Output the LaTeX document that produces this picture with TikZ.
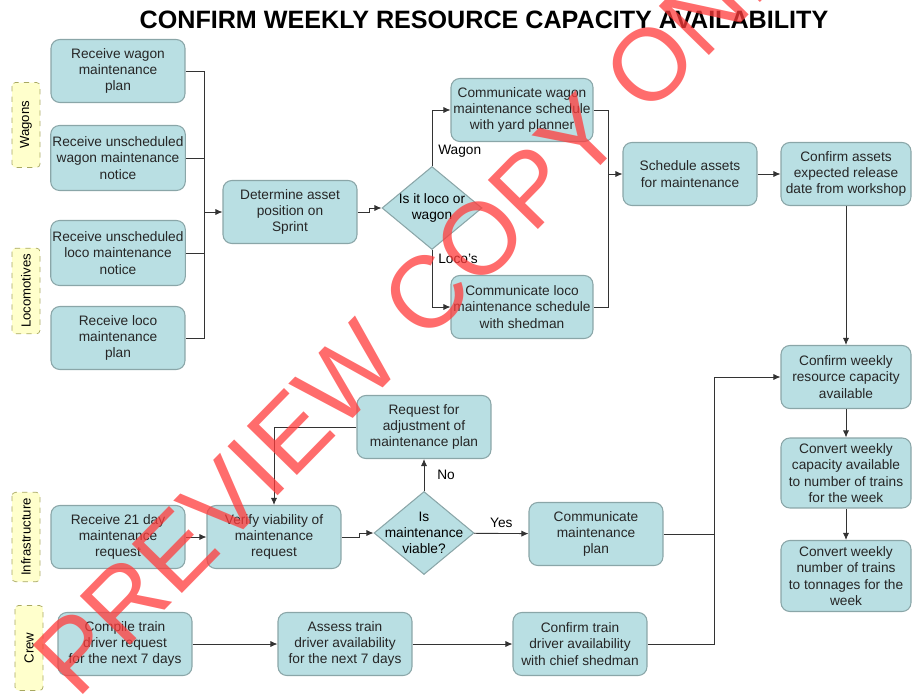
\documentclass[tikz,border=0pt]{standalone}
\usepackage{fontspec}
\setmainfont{Liberation Sans}
\usetikzlibrary{shapes.geometric,arrows.meta}
\definecolor{boxfill}{HTML}{B9DFE3}
\definecolor{boxline}{HTML}{8AA6A8}
\definecolor{lanefill}{HTML}{FFFFCC}
\definecolor{laneline}{HTML}{A8A860}
\definecolor{wire}{HTML}{333333}
\definecolor{stamp}{HTML}{FF3B3B}

\begin{document}
\begin{tikzpicture}[x=0.02cm, y=-0.02cm, font=\fontsize{7.8}{9.3}\selectfont]
  \tikzstyle{task}=[draw=boxline, fill=boxfill, line width=0.6pt, rounded corners=5pt, align=center, text=black!85, minimum width=2.68cm, minimum height=1.26cm, inner sep=1pt];
  \tikzstyle{choice}=[diamond, draw=boxline, fill=boxfill, line width=0.6pt, minimum width=2cm, minimum height=1.66cm, inner sep=0pt];
  \tikzstyle{lane}=[draw=laneline, fill=lanefill, dashed, rounded corners=2pt, rotate=90, minimum width=1.7cm, minimum height=0.56cm, font=\fontsize{7.5}{9}\selectfont];
  \tikzstyle{flowline}=[draw=wire, line width=0.5pt];
  \tikzstyle{flowarrow}=[draw=wire, line width=0.5pt, -{Latex[length=4pt,width=3.5pt]}];

  \useasboundingbox (0,0) rectangle (912,696);

  \node[font=\bfseries\fontsize{14.3}{16}\selectfont] (title) at (484,20) {CONFIRM WEEKLY RESOURCE CAPACITY AVAILABILITY};

  % lanes
  \node[lane] (wagons) at (26,125) {Wagons};
  \node[lane] (locos) at (26,291) {Locomotives};
  \node[lane] (infra) at (26,537) {Infrastructure};
  \node[lane] (crew) at (29,648) {Crew};

  % wagons and locos
  \node[task] (wagplan) at (118,71) {Receive wagon\\maintenance\\plan};
  \node[task, minimum height=1.3cm] (wagnote) at (118,158) {Receive unscheduled\\wagon maintenance\\notice};
  \node[task, minimum height=1.3cm] (loconote) at (118,253) {Receive unscheduled\\loco maintenance\\notice};
  \node[task] (locoplan) at (118,338) {Receive loco\\maintenance\\plan};
  \node[task] (position) at (290,212) {Determine asset\\position on\\Sprint};
  \node[choice, label={[align=center]center:{Is it loco or\\wagon}}] (kind) at (432,208) {};
  \node[task, minimum width=2.84cm] (commwag) at (522,110) {Communicate wagon\\maintenance schedule\\with yard planner};
  \node[task, minimum width=2.84cm] (commloco) at (522,307) {Communicate loco\\maintenance schedule\\with shedman};
  \node[task] (schedule) at (690,174) {Schedule assets\\for maintenance};
  \node[task, minimum width=2.6cm] (release) at (846,174) {Confirm assets\\expected release\\date from workshop};

  % weekly capacity
  \node[task, minimum width=2.6cm] (weekly) at (846,377) {Confirm weekly\\resource capacity\\available};
  \node[task, minimum width=2.6cm, minimum height=1.4cm] (trains) at (846,473) {Convert weekly\\capacity available\\to number of trains\\for the week};
  \node[task, minimum width=2.6cm, minimum height=1.42cm] (tonnes) at (846,576) {Convert weekly\\number of trains\\to tonnages for the\\week};

  % infrastructure
  \node[task] (req21) at (118,537) {Receive 21 day\\maintenance\\request};
  \node[task] (verify) at (274,537) {Verify viability of\\maintenance\\request};
  \node[choice, label={[align=center]center:{Is\\maintenance\\viable?}}] (viable) at (424,533) {};
  \node[task] (adjust) at (424,427) {Request for\\adjustment of\\maintenance plan};
  \node[task] (commplan) at (596,534) {Communicate\\maintenance\\plan};

  % crew
  \node[task] (compile) at (125,644) {Compile train\\driver request\\for the next 7 days};
  \node[task] (assess) at (345,644) {Assess train\\driver availability\\for the next 7 days};
  \node[task] (driver) at (580,644) {Confirm train\\driver availability\\with chief shedman};

  \coordinate (busA) at (204,0);
  \coordinate (busB) at (608,0);
  \coordinate (busC) at (714,0);

  \draw[flowline] (wagplan.east) -| (busA |- locoplan.east) -- (locoplan.east);
  \draw[flowline] (wagnote.east) -- (busA |- wagnote.east);
  \draw[flowline] (loconote.east) -- (busA |- loconote.east);
  \draw[flowarrow] (busA |- position.west) -- (position.west);
  \draw[flowarrow] (position.east) -- ++(12,0) |- (kind.west);
  \draw[flowarrow] (kind.north) |- node[pos=0.13, right]{Wagon} (commwag.west);
  \draw[flowarrow] (kind.south) |- node[pos=0.08, right]{Loco's} (commloco.west);
  \draw[flowline] (commwag.east) -| (busB |- commloco.east) -- (commloco.east);
  \draw[flowarrow] (busB |- schedule.west) -- (schedule.west);
  \draw[flowarrow] (schedule) -- (release);
  \draw[flowarrow] (release) -- (weekly);
  \draw[flowarrow] (weekly) -- (trains);
  \draw[flowarrow] (trains) -- (tonnes);

  \draw[flowarrow] (req21) -- (verify);
  \draw[flowarrow] (verify.east) -- ++(18,0) |- (viable.west);
  \draw[flowarrow] (viable) -- node[right, xshift=4pt]{No} (adjust);
  \draw[flowarrow] (adjust.west) -| (verify.north);
  \draw[flowarrow] (viable) -- node[above]{Yes} (commplan);
  \draw[flowarrow] (commplan.east) -| (busC |- weekly.west) -- (weekly.west);

  \draw[flowarrow] (compile) -- (assess);
  \draw[flowarrow] (assess) -- (driver);
  \draw[flowline] (driver.east) -| (busC |- commplan.east);

  \node[text=stamp, text opacity=0.75, rotate=45.6, font=\fontsize{58}{60}\selectfont] (watermark) at (432,288) {PREVIEW COPY ONLY};
\end{tikzpicture}
\end{document}
